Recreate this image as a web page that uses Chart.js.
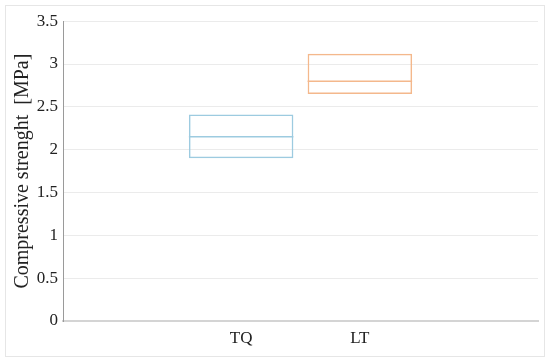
<!DOCTYPE html>
<html>
<head>
<meta charset="utf-8">
<script src="https://cdn.jsdelivr.net/npm/chart.js@4"></script>
<style>
  body { margin: 0; background: #fff; }
  #frame { position: absolute; left: 5px; top: 5px; width: 538px; height: 350px; border: 1px solid #e6e6e6; }
</style>
</head>
<body>
<div id="frame"><canvas id="myChart" width="538" height="350"></canvas></div>
<script>
// categories (empty slots at both ends, as in the original)
const categories = ['', 'TQ', 'LT', ''];
const boxLow = [null, 1.90, 2.65, null];
const boxHigh = [null, 2.41, 3.12, null];
const medians = [null, 2.15, 2.80, null];
const boxColors = ['#9dcbe0', '#9dcbe0', '#f4b88c', '#f4b88c'];
const yTicks = [0, 0.5, 1, 1.5, 2, 2.5, 3, 3.5];

const serif = '"Liberation Serif", "DejaVu Serif", serif';

// median line inside each box
const medianLines = {
    id: 'medianLines',
    afterDatasetsDraw(chart) {
        const ctx = chart.ctx;
        const meta = chart.getDatasetMeta(0);
        const y = chart.scales.y;
        ctx.save();
        ctx.lineWidth = 1.5;
        meta.data.forEach((bar, i) => {
            if (medians[i] == null) return;
            const py = y.getPixelForValue(medians[i]);
            ctx.strokeStyle = boxColors[i];
            ctx.beginPath();
            ctx.moveTo(bar.x - bar.width / 2, py);
            ctx.lineTo(bar.x + bar.width / 2, py);
            ctx.stroke();
        });
        ctx.restore();
    }
};

const ctx = document.getElementById('myChart');

new Chart(ctx, {
    type: 'bar',
    data: {
        labels: categories,
        datasets: [{
            data: boxLow.map((v, i) => v == null ? null : [v, boxHigh[i]]),
            backgroundColor: 'rgba(0,0,0,0)',
            borderColor: boxColors,
            borderWidth: 1.5,
            borderSkipped: false,
            categoryPercentage: 0.88,
            barPercentage: 1,
        }]
    },
    plugins: [medianLines],
    options: {
        responsive: false,
        animation: false,
        layout: { padding: { top: 14, right: 6, left: 0, bottom: 0 } },
        plugins: {
            legend: { display: false },
            tooltip: { enabled: false }
        },
        scales: {
            x: {
                grid: { display: false, drawTicks: false },
                border: { color: '#d4d4d4', width: 2 },
                ticks: { color: '#222', font: { family: serif, size: 17 }, padding: 7 },
                afterFit: s => { s.height = 35; }
            },
            y: {
                min: 0,
                max: 3.5,
                afterBuildTicks: s => { s.ticks = yTicks.map(v => ({ value: v })); },
                grid: { color: '#ebebeb', lineWidth: 1, drawTicks: false },
                border: { color: '#9a9a9a', width: 1 },
                ticks: {
                    color: '#222',
                    font: { family: serif, size: 17 },
                    padding: 5,
                    callback: v => String(v)
                },
                title: {
                    display: true,
                    text: 'Compressive strenght  [MPa]',
                    color: '#222',
                    font: { family: serif, size: 20 },
                    padding: { top: 5, bottom: 0 }
                },
                afterFit: s => { s.width = 57; }
            }
        }
    }
});
</script>
</body>
</html>
